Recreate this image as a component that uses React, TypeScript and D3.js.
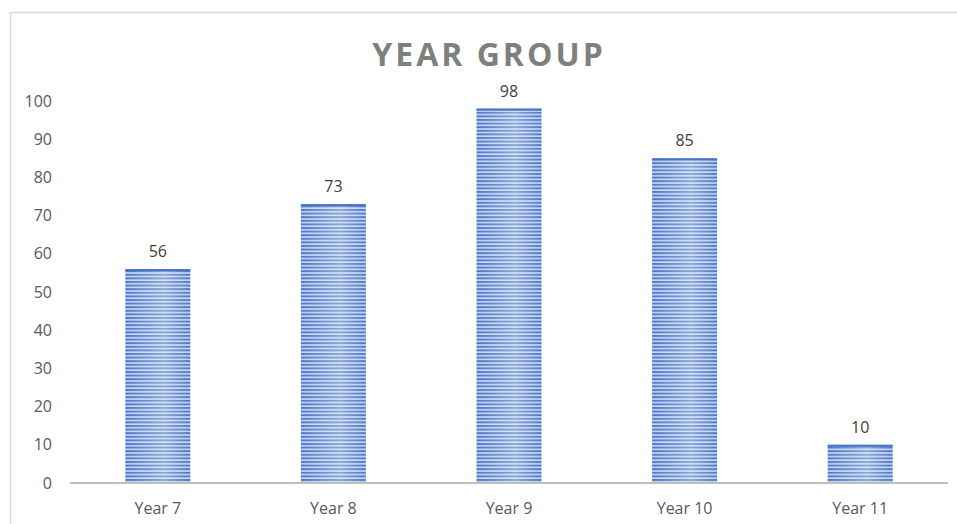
import { useEffect, useRef } from "react";
import * as d3 from "d3";

const categories = ["Year 7", "Year 8", "Year 9", "Year 10", "Year 11"];
const values = [56, 73, 98, 85, 10];
const yTicks = [0, 10, 20, 30, 40, 50, 60, 70, 80, 90, 100];
const title = "YEAR GROUP";

export default function App() {
    const svgRef = useRef<SVGSVGElement>(null);

    useEffect(() => {
        if (!svgRef.current) return;
        const svg = d3.select(svgRef.current);
        svg.selectAll("*").remove();

        const W = 957, H = 524;
        const margin = { top: 101, right: 9, bottom: 41, left: 70 };
        const width = W - margin.left - margin.right;
        const height = H - margin.top - margin.bottom;
        const font = "'Open Sans', 'Noto Sans', sans-serif";

        svg.attr("width", W).attr("height", H);

        // stripe pattern + soft highlight for bars
        const defs = svg.append("defs");
        const grad = defs.append("linearGradient").attr("id", "shine").attr("x1", 0).attr("x2", 1).attr("y1", 0).attr("y2", 0);
        grad.append("stop").attr("offset", "0%").attr("stop-color", "#fff").attr("stop-opacity", 0);
        grad.append("stop").attr("offset", "60%").attr("stop-color", "#fff").attr("stop-opacity", 0.35);
        grad.append("stop").attr("offset", "100%").attr("stop-color", "#fff").attr("stop-opacity", 0);
        const pat = defs.append("pattern").attr("id", "stripes")
            .attr("patternUnits", "userSpaceOnUse").attr("width", 8).attr("height", 3.6);
        pat.append("rect").attr("width", 8).attr("height", 3.6).attr("fill", "#c9d7f0");
        pat.append("rect").attr("y", 0).attr("width", 8).attr("height", 2).attr("fill", "#4a78c8");

        // chart border
        svg.append("rect").attr("x", 10.5).attr("y", 12.5).attr("width", W).attr("height", H)
            .attr("fill", "#fff").attr("stroke", "#d9d9d9").attr("stroke-width", 1.5);

        const g = svg.append("g").attr("transform", `translate(${margin.left},${margin.top})`);

        const x = d3.scaleBand().domain(categories).range([0, width]).paddingInner(0.63).paddingOuter(0.315);
        const y = d3.scaleLinear().domain([0, 100]).range([height, 0]);

        svg.append("text")
            .attr("x", 489).attr("y", 66)
            .attr("text-anchor", "middle")
            .attr("font-family", font).attr("font-weight", "bold").attr("font-size", 32)
            .attr("letter-spacing", "3px")
            .attr("fill", "#7f7f7f")
            .text(title);

        // y tick labels
        g.selectAll(".ytick").data(yTicks).enter().append("text")
            .attr("x", -18).attr("y", d => y(d)).attr("dy", "0.35em")
            .attr("text-anchor", "end")
            .attr("font-family", font).attr("font-size", 16).attr("fill", "#595959")
            .text(d => d);

        // bars
        const bars = g.selectAll(".bar").data(values).enter().append("g");
        bars.append("rect")
            .attr("x", (_, i) => x(categories[i])!)
            .attr("y", d => y(d))
            .attr("width", x.bandwidth())
            .attr("height", d => height - y(d))
            .attr("fill", "url(#stripes)");
        bars.append("rect")
            .attr("x", (_, i) => x(categories[i])!)
            .attr("y", d => y(d))
            .attr("width", x.bandwidth())
            .attr("height", d => height - y(d))
            .attr("fill", "url(#shine)");
        bars.append("rect")
            .attr("x", (_, i) => x(categories[i])!)
            .attr("y", d => y(d))
            .attr("width", x.bandwidth())
            .attr("height", 2)
            .attr("fill", "#4472c4");

        // value labels
        g.selectAll(".val").data(values).enter().append("text")
            .attr("x", (_, i) => x(categories[i])! + x.bandwidth() / 2)
            .attr("y", d => y(d) - 12)
            .attr("text-anchor", "middle")
            .attr("font-family", font).attr("font-size", 16).attr("fill", "#404040")
            .text(d => d);

        // x axis line
        g.append("line").attr("x1", 0).attr("x2", width).attr("y1", height).attr("y2", height)
            .attr("stroke", "#bfbfbf").attr("stroke-width", 2);

        // x labels
        g.selectAll(".xl").data(categories).enter().append("text")
            .attr("x", d => x(d)! + x.bandwidth() / 2)
            .attr("y", height + 31)
            .attr("text-anchor", "middle")
            .attr("font-family", font).attr("font-size", 16).attr("fill", "#595959")
            .text(d => d);
    }, []);

    return (
        <div style={{ position: "absolute", left: 0, top: 0, width: 957, height: 524, background: "#fff" }}>
            <svg ref={svgRef} style={{ display: "block" }}></svg>
        </div>
    );
}
